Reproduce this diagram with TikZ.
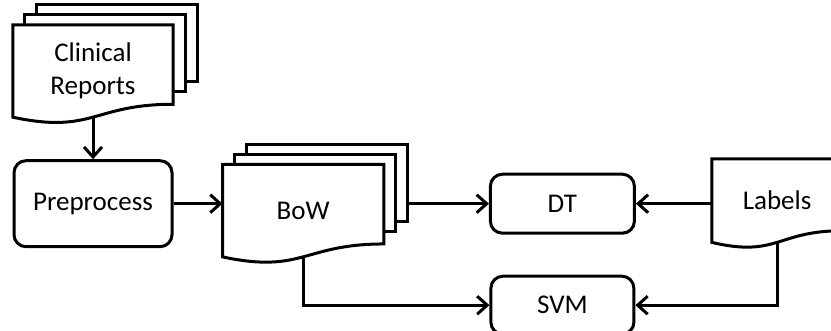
\documentclass[tikz,border=0pt]{standalone}
\usepackage{fontspec}
\setmainfont{Carlito}
\usetikzlibrary{positioning,arrows.meta,calc}

\pgfdeclarelayer{bg}
\pgfsetlayers{bg,main}

% wavy sheet drawn round a node
\newcommand{\docpage}[1]{%
  \draw[page] (#1.north west) -- (#1.north east)
    -- ($(#1.north east)!0.86!(#1.south east)$)
    .. controls ($(#1.north)!0.86!(#1.south)$) and ($(#1.north)!1.185!(#1.south)$) .. (#1.south west) -- cycle;}
% two more sheets behind it
\newcommand{\sheets}[1]{%
  \draw[page] ($(#1.north west)+(24pt,20pt)$) rectangle ($(#1.north east)!0.835!(#1.south east)+(24pt,20pt)$);
  \draw[page] ($(#1.north west)+(12pt,10pt)$) rectangle ($(#1.north east)!0.835!(#1.south east)+(12pt,10pt)$);}

\begin{document}
\begin{tikzpicture}[
    font=\fontsize{27pt}{33pt}\selectfont,
    doc/.style={align=center, inner sep=0pt},
    page/.style={draw, fill=white, line width=3pt},
    proc/.style={rectangle, draw, rounded corners=12pt, line width=3pt, text centered},
    arrow/.style={line width=3pt, -{Straight Barb[length=10pt,width=18pt]}}
]
    \useasboundingbox (0,0) rectangle (831pt,-331pt);

    % Nodes
    \node[doc, minimum width=160pt, minimum height=92pt] (reports) at (93pt,-71pt) {Clinical\\Reports};
    \node[proc, minimum width=158pt, minimum height=86pt, below=42pt of reports] (prep) {Preprocess};
    \node[doc, minimum width=161pt, minimum height=92pt, right=49pt of prep, yshift=-7pt] (bow) {BoW};
    \node[proc, minimum width=144pt, minimum height=59pt, right=105pt of bow, yshift=7pt] (dt) {DT};
    \node[proc, minimum width=143pt, minimum height=58pt, below=40pt of dt] (svm) {SVM};
    \node[doc, minimum width=130pt, minimum height=83pt, right=76pt of dt, yshift=3pt] (labels) {Labels};
    \coordinate (bowback) at ($(bow.east)+(24pt,0)$);

    % Sheets
    \begin{pgfonlayer}{bg}
        \sheets{reports}
        \docpage{reports}
        \sheets{bow}
        \docpage{bow}
        \docpage{labels}
    \end{pgfonlayer}

    % Connections
    \draw[arrow] (reports.south) -- (reports.south |- prep.north);
    \draw[arrow] (prep) -- (prep -| bow.west);
    \draw[arrow] (bowback |- dt.west) -- (dt.west);
    \draw[arrow] (bow.south) |- (svm.west);
    \draw[arrow] (labels.west |- dt.east) -- (dt.east);
    \draw[arrow] (labels.south) |- (svm.east);
\end{tikzpicture}
\end{document}
